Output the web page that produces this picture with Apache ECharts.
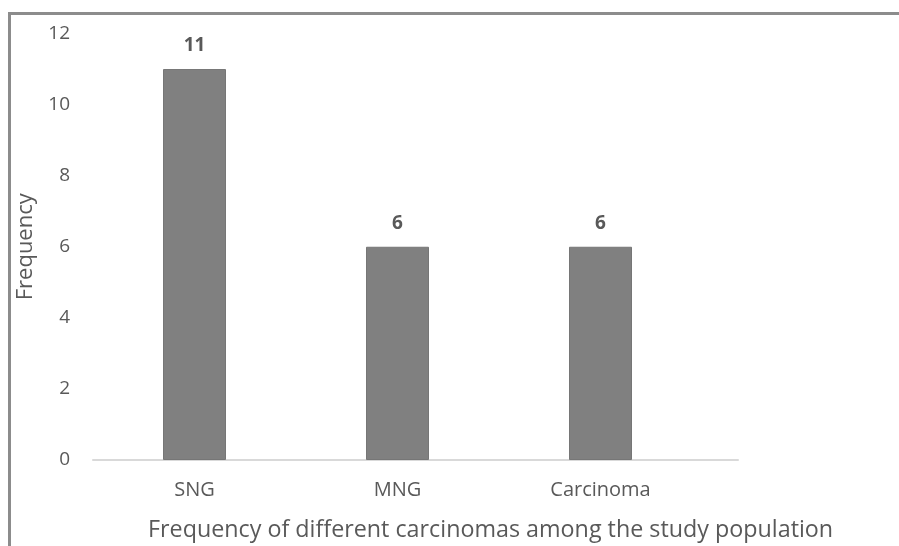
<!DOCTYPE html>
<html>
<head>
<meta charset="utf-8">
<script src="https://cdn.jsdelivr.net/npm/echarts@6/dist/echarts.min.js"></script>
<style>
  html, body { margin: 0; padding: 0; background: #fff; }
  #wrap { position: relative; width: 899px; height: 546px; overflow: hidden; }
  #chart { position: absolute; left: 0; top: 0; width: 899px; height: 546px; }
  #frame { position: absolute; left: 8px; top: 12px; width: 1000px; height: 600px;
           border-top: 3px solid #8c8c8c; border-left: 3px solid #8c8c8c; pointer-events: none; }
</style>
</head>
<body>
<div id="wrap">
  <div id="chart"></div>
  <div id="frame"></div>
</div>
<script>
// Frequency of each diagnosis
const categories = ['SNG', 'MNG', 'Carcinoma'];
const frequencies = [11, 6, 6];
const yTicks = { min: 0, max: 12, interval: 2 };

const FONT = '"Open Sans", "Noto Sans", sans-serif';
const chart = echarts.init(document.getElementById('chart'), null, { renderer: 'canvas' });

chart.setOption({
  animation: false,
  backgroundColor: 'transparent',
  title: {
    text: 'Frequency of different carcinomas among the study population',
    left: 148,
    top: 519,
    padding: 0,
    textStyle: { fontFamily: FONT, fontSize: 23.3, fontWeight: 'normal', color: '#595959' }
  },
  grid: [
    { left: 93, right: 197, top: 33.5, bottom: 86 },
    { left: 93, right: 161, top: 33.5, bottom: 86 }
  ],
  xAxis: [
    {
      type: 'category',
      gridIndex: 0,
      data: categories,
      axisLine: { show: false },
      axisTick: { show: false },
      axisLabel: { margin: 20, fontFamily: FONT, fontSize: 20, color: '#595959' }
    },
    {
      // baseline spanning the full plot area
      type: 'value',
      gridIndex: 1,
      min: 0, max: 1,
      axisLine: { show: true, lineStyle: { color: '#d9d9d9', width: 2 } },
      axisTick: { show: false },
      axisLabel: { show: false },
      splitLine: { show: false }
    }
  ],
  yAxis: [
    {
      type: 'value',
      gridIndex: 0,
      min: yTicks.min,
      max: yTicks.max,
      interval: yTicks.interval,
      name: 'Frequency',
      nameLocation: 'middle',
      nameGap: 56,
      nameTextStyle: { fontFamily: FONT, fontSize: 22, color: '#595959' },
      axisLine: { show: false },
      axisTick: { show: false },
      splitLine: { show: false },
      axisLabel: { margin: 23, fontFamily: FONT, fontSize: 19, color: '#595959' }
    },
    {
      type: 'value',
      gridIndex: 1,
      show: false
    }
  ],
  series: [
    {
      type: 'bar',
      xAxisIndex: 0,
      yAxisIndex: 0,
      data: frequencies,
      barWidth: 63,
      itemStyle: { color: '#808080', borderColor: '#767676', borderWidth: 1 },
      label: {
        show: true,
        position: 'top',
        distance: 14,
        fontFamily: FONT,
        fontSize: 19,
        fontWeight: 'bold',
        color: '#595959'
      }
    }
  ]
});
</script>
</body>
</html>
